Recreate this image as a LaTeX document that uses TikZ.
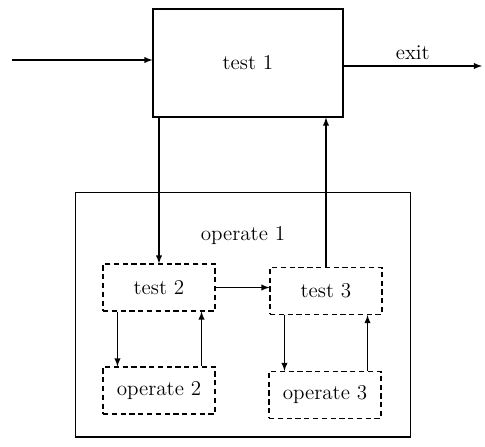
\documentclass[tikz,border=0pt]{standalone}
\usepackage{amsmath, amssymb}
\usepackage{tikz}

\begin{document}
\begin{tikzpicture}[>=latex, x=0.02cm, y=-0.02cm, line width=0.6pt,
    block/.style={draw, rectangle, font=\large},
    subblock/.style={draw, rectangle, dash pattern=on 3pt off 2pt, minimum width=2.24cm, minimum height=0.94cm, font=\large}]
        \useasboundingbox (0, 0) rectangle (485, 447);
        % outer loop
        \node[block, minimum width=3.8cm, minimum height=2.16cm] (T1) at (248, 63) {test 1};
        \node[block, minimum width=6.72cm, minimum height=4.9cm] (O1) at (243, 314.5) {};
        \node[font=\large] (O1txt) at (243, 236) {operate 1};
        % inner loops
        \node[subblock] (T2) at (159, 287.5) {test 2};
        \node[subblock] (T3) at (326, 291) {test 3};
        \node[subblock] (O2) at (159, 390.5) {operate 2};
        \node[subblock] (O3) at (325, 395) {operate 3};
        \coordinate (IN) at (12, 60);
        \coordinate (OUT) at (482, 66);
        \draw[->] (IN) -- (IN -| T1.west);
        \draw[->] (T1.east |- OUT) -- node[above, font=\large] (EXIT) {exit} (OUT);
        \draw[->] (T1.south -| T2.north) -- (T2.north);
        \draw[->] (T3.north) -- (T3.north |- T1.south);
        \draw[->] (T2.east) -- (T3.west |- T2.east);
        \draw[->] ([xshift=0.3cm]T2.south west) -- ([xshift=0.3cm]T2.south west |- O2.north);
        \draw[->] ([xshift=-0.28cm]O2.north east) -- ([xshift=-0.28cm]O2.north east |- T2.south);
        \draw[->] ([xshift=0.3cm]T3.south west) -- ([xshift=0.3cm]T3.south west |- O3.north);
        \draw[->] ([xshift=-0.28cm]O3.north east) -- ([xshift=-0.28cm]O3.north east |- T3.south);
      \end{tikzpicture}
\end{document}
